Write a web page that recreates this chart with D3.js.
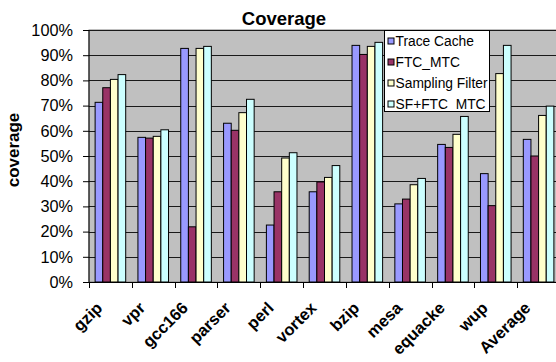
<!DOCTYPE html>
<html>
<head>
<meta charset="utf-8">
<script src="https://cdn.jsdelivr.net/npm/d3@7"></script>
<style>
  html, body { margin: 0; padding: 0; background: #fff; }
  svg { display: block; font-family: "Liberation Sans", Arial, sans-serif; }
  svg text { font-family: "Liberation Sans", Arial, sans-serif; }
</style>
</head>
<body>
<svg id="chart" width="556" height="362"></svg>
<script>
// Benchmarks along the x axis
const categories = ["gzip", "vpr", "gcc166", "parser", "perl", "vortex", "bzip", "mesa", "equacke", "wup", "Average"];
// Series names (legend order)
const seriesNames = ["Trace Cache", "FTC_MTC", "Sampling Filter", "SF+FTC_MTC"];
// Coverage per benchmark, in percent
const traceCache     = [71.3, 57.4, 92.7, 63.0, 22.6, 35.8, 93.9, 31.0, 54.6, 43.0, 56.6];
const ftcMtc         = [77.1, 57.1, 21.9, 60.2, 35.8, 39.7, 90.3, 32.9, 53.4, 30.3, 50.0];
const samplingFilter = [80.4, 57.8, 92.7, 67.2, 49.2, 41.5, 93.5, 38.6, 58.6, 82.7, 66.1];
const sfFtcMtc       = [82.3, 60.4, 93.5, 72.5, 51.3, 46.2, 95.1, 41.1, 65.7, 93.9, 69.8];
// Y axis ticks
const yTicks = [0, 10, 20, 30, 40, 50, 60, 70, 80, 90, 100];

const seriesValues = [traceCache, ftcMtc, samplingFilter, sfFtcMtc];
const colors = ["#9999FF", "#993366", "#FFFFCC", "#CCFFFF"];

const svg = d3.select("#chart");
const plot = { left: 89, right: 560, top: 30, bottom: 282 };

const x0 = d3.scaleBand().domain(categories).range([plot.left, plot.right]).paddingInner(0).paddingOuter(0);
const x1 = d3.scaleBand().domain(d3.range(seriesNames.length)).range([0, x0.bandwidth()]).paddingInner(0).paddingOuter(0.8);
const y = d3.scaleLinear().domain([0, 100]).range([plot.bottom, plot.top]);

// Plot area background
svg.append("rect")
  .attr("x", plot.left).attr("y", plot.top)
  .attr("width", plot.right - plot.left).attr("height", plot.bottom - plot.top)
  .attr("fill", "#C0C0C0").attr("stroke", "#808080").attr("stroke-width", 1);

// Horizontal gridlines
svg.append("g").selectAll("line")
  .data(yTicks.filter(t => t > 0))
  .join("line")
  .attr("x1", plot.left).attr("x2", plot.right)
  .attr("y1", d => Math.round(y(d)) + 0.5).attr("y2", d => Math.round(y(d)) + 0.5)
  .attr("stroke", "#1a1a1a").attr("stroke-width", 1);

// Bars
const groups = svg.append("g").selectAll("g")
  .data(categories)
  .join("g")
  .attr("transform", d => `translate(${x0(d)},0)`);

groups.selectAll("rect")
  .data((d, i) => seriesValues.map((vals, s) => ({ s, v: vals[i] })))
  .join("rect")
  .attr("x", d => x1(d.s))
  .attr("y", d => y(d.v))
  .attr("width", x1.bandwidth())
  .attr("height", d => y(0) - y(d.v))
  .attr("fill", d => colors[d.s])
  .attr("stroke", "#000").attr("stroke-width", 1);

// Y axis
const yAxis = d3.axisLeft(y).tickValues(yTicks).tickFormat(d => d + "%").tickSize(6).tickPadding(10);
const gy = svg.append("g").attr("transform", `translate(${plot.left},0)`).call(yAxis)
  .attr("font-family", null).attr("font-size", null);
gy.select(".domain").attr("stroke", "#000").attr("d", `M-6,${plot.top}.5H0V${plot.bottom}`);
gy.selectAll("text").attr("font-size", 16.3).attr("fill", "#000");
gy.selectAll("line").attr("stroke", "#000");

// X axis: ticks at category boundaries
const gx = svg.append("g");
gx.append("line")
  .attr("x1", plot.left).attr("x2", plot.right)
  .attr("y1", plot.bottom + 0.5).attr("y2", plot.bottom + 0.5)
  .attr("stroke", "#000");
gx.selectAll("line.tick")
  .data(categories)
  .join("line")
  .attr("class", "tick")
  .attr("x1", d => Math.round(x0(d)) + 0.5).attr("x2", d => Math.round(x0(d)) + 0.5)
  .attr("y1", plot.bottom).attr("y2", plot.bottom + 6)
  .attr("stroke", "#000");
gx.selectAll("text")
  .data(categories)
  .join("text")
  .attr("transform", d => `translate(${x0(d) + x0.bandwidth() / 2 - 7},309) rotate(-45)`)
  .attr("text-anchor", "end")
  .attr("font-size", 16.5)
  .attr("font-weight", "bold")
  .attr("fill", "#000")
  .text(d => d);

// Title
svg.append("text")
  .attr("x", 284).attr("y", 25)
  .attr("text-anchor", "middle")
  .attr("font-size", 18.5).attr("font-weight", "bold")
  .text("Coverage");

// Y axis title
svg.append("text")
  .attr("transform", "translate(18.5,150) rotate(-90)")
  .attr("text-anchor", "middle")
  .attr("font-size", 17).attr("font-weight", "bold")
  .text("coverage");

// Legend
const legend = svg.append("g").attr("transform", "translate(384.5,30.5)");
legend.append("rect")
  .attr("width", 105).attr("height", 81)
  .attr("fill", "#fff").attr("stroke", "#000");
const items = legend.selectAll("g.item")
  .data(seriesNames)
  .join("g")
  .attr("class", "item")
  .attr("transform", (d, i) => `translate(0,${10.5 + i * 21})`);
items.append("rect")
  .attr("x", 3.5).attr("y", -3)
  .attr("width", 6).attr("height", 6)
  .attr("fill", (d, i) => colors[i]).attr("stroke", "#000");
items.append("text")
  .attr("x", 11).attr("y", 5)
  .attr("font-size", 13.8)
  .attr("fill", "#000")
  .text(d => d);
</script>
</body>
</html>
